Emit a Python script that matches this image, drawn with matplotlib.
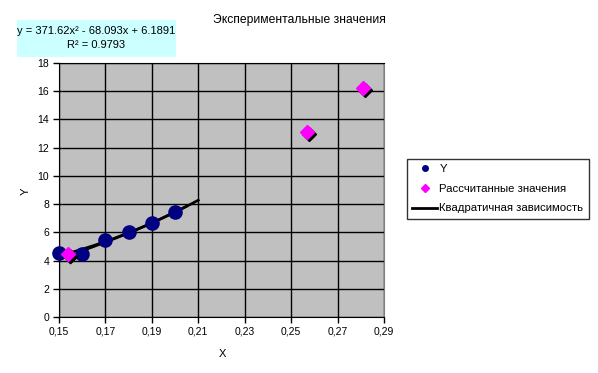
import numpy as np
import matplotlib as mpl
mpl.use('Agg')
import matplotlib.pyplot as plt
from matplotlib.lines import Line2D
from matplotlib.patches import Rectangle
from matplotlib.transforms import offset_copy

plt.rcParams['font.family'] = ['Liberation Sans', 'DejaVu Sans']

# experimental data
x_exp = [0.15, 0.16, 0.17, 0.18, 0.19, 0.20]
y_exp = [4.55, 4.5, 5.45, 6.0, 6.68, 7.42]

# calculated values
x_calc = [0.154, 0.257, 0.281]
y_calc = [4.45, 13.1, 16.2]

# "quadratic dependence" series
x_quad = [0.155, 0.161, 0.17, 0.18, 0.19, 0.20, 0.205]
y_quad = [3.85, 4.75, 5.3, 5.95, 6.65, 7.45, 7.85]

# trendline coefficients as shown on the chart
coef = [371.62, -68.093, 6.1891]
r2 = 0.9793

xticks = [0.15, 0.17, 0.19, 0.21, 0.23, 0.25, 0.27, 0.29]
yticks = list(range(0, 19, 2))

W, H = 598, 373
fig = plt.figure(figsize=(W/100, H/100), dpi=100)
ax = fig.add_axes([59/W, 1-317/H, (384-59)/W, (317-63)/H])
ax.set_facecolor('#c0c0c0')

ax.set_xlim(0.15, 0.29)
ax.set_ylim(0, 18)
ax.set_xticks(xticks)
ax.set_xticklabels([f'{t:.2f}'.replace('.', ',') for t in xticks])
ax.set_yticks(yticks)
ax.tick_params(labelsize=7.5, length=4, width=1, direction='out', pad=3)
ax.grid(True, color='black', lw=1)
ax.set_axisbelow(True)
for s in ['left', 'bottom', 'top']:
    ax.spines[s].set_color('black')
ax.spines['right'].set_color('#808080')

# trendline
xt = np.linspace(0.15, 0.21, 50)
ax.plot(xt, np.polyval(coef, xt), color='black', lw=1.9, zorder=3)
ax.plot(x_quad, y_quad, color='black', lw=1.9, zorder=3)

ax.plot(x_exp, y_exp, 'o', color='#000080', ms=9.5, ls='none', zorder=4, clip_on=False)

shadow = offset_copy(ax.transData, fig=fig, x=2, y=-2, units='dots')
ax.plot(x_calc, y_calc, 'D', color='black', ms=7.5, ls='none', transform=shadow, zorder=5)
ax.plot(x_calc, y_calc, 'D', color='#ff00ff', ms=7.5, ls='none', zorder=6, clip_on=False)

fig.text(222/W, 1-354/H, 'X', fontsize=8, ha='center', va='center')
fig.text(26/W, 1-191/H, 'Y', fontsize=8, ha='center', va='center', rotation=90)
fig.text(299/W, 1-20/H, 'Экспериментальные значения', fontsize=8.7, ha='center', va='center')

# equation box
fig.patches.append(Rectangle((17/W, 1-57/H), (176-17)/W, (57-20)/H,
                             transform=fig.transFigure, fc='#ccffff', ec='none', zorder=0))
fig.text(96/W, 1-31/H, f'y = {coef[0]}x² - {abs(coef[1])}x + {coef[2]}',
         fontsize=8, ha='center', va='center')
fig.text(96/W, 1-45/H, f'R² = {r2}', fontsize=8, ha='center', va='center')

handles = [Line2D([], [], marker='o', color='#000080', ls='none', ms=4),
           Line2D([], [], marker='D', color='#ff00ff', ls='none', ms=4),
           Line2D([], [], color='black', lw=2)]
labels = ['Y', 'Рассчитанные значения', 'Квадратичная зависимость']
leg = fig.legend(handles, labels, loc='upper left', bbox_to_anchor=(407/W, 1-159/H),
                 fontsize=8.2, frameon=True, fancybox=False, borderpad=0.45,
                 handlelength=2.2, handletextpad=0.2, labelspacing=0.85, borderaxespad=0)
leg.get_frame().set_edgecolor('black')
leg.get_frame().set_linewidth(1)

fig.savefig('out.png', dpi=100)
